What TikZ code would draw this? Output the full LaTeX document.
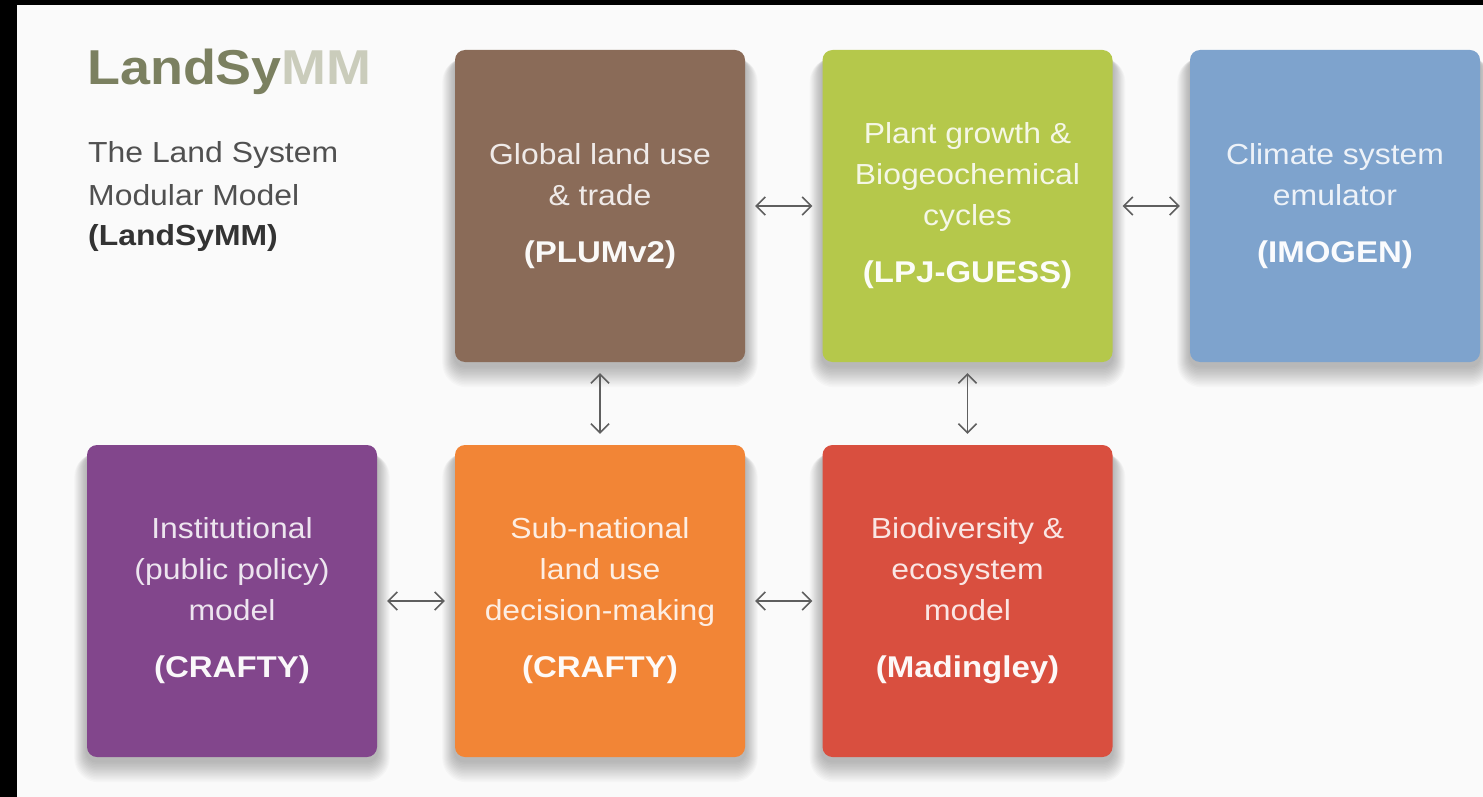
\documentclass[tikz,border=0pt]{standalone}
\usepackage{fontspec}
\setmainfont[FakeStretch=1.1]{Liberation Sans}
\usetikzlibrary{arrows.meta,backgrounds}

\definecolor{panel}{HTML}{FAFAFA}
\definecolor{titleolive}{HTML}{7B8060}
\definecolor{titlelight}{HTML}{CACCBB}
\definecolor{subgray}{HTML}{505050}
\definecolor{subdark}{HTML}{333333}
\definecolor{linkgray}{HTML}{5F5F5F}
\definecolor{cbrown}{HTML}{8A6B58}
\definecolor{cgreen}{HTML}{B5C84B}
\definecolor{cblue}{HTML}{7EA3CD}
\definecolor{cpurple}{HTML}{82468C}
\definecolor{corange}{HTML}{F28536}
\definecolor{cred}{HTML}{D94F3F}

\tikzset{
  module/.style={rectangle, rounded corners=10pt, minimum width=290pt,
    minimum height=312pt, inner sep=0pt, fill=#1, text=white!86!#1,
    align=center, font=\fontsize{29}{41}\selectfont},
  link/.style={draw=linkgray, line width=1.6pt,
    {Straight Barb[length=9pt,width=18pt]}-{Straight Barb[length=9pt,width=18pt]}},
  subline/.style={anchor=base west, inner sep=0pt, text=subgray,
    font=\fontsize{29}{41}\selectfont}
}
\newcommand{\modtag}[2]{{\bfseries\fontsize{30}{41}\selectfont\color{white!96!#1}#2}}

\begin{document}
\begin{tikzpicture}[x=1pt,y=-1pt]
\useasboundingbox (0,0) rectangle (1483,797);

% page background: dark frame with a light panel
\begin{pgfonlayer}{background}
  \fill[black] (0,0) rectangle (1483,797);
  \fill[panel] (17,5) rectangle (1483,797);
\end{pgfonlayer}

% heading
\node[anchor=base west, inner sep=0pt, font=\bfseries\fontsize{49}{49}\selectfont]
  (title) at (87,85) {\textcolor{titleolive}{LandSy}\textcolor{titlelight}{MM}};
\node[subline] (sub1) at (88,163) {The Land System};
\node[subline] (sub2) at (88,205) {Modular Model};
\node[subline, text=subdark, font=\bfseries\fontsize{29}{41}\selectfont]
  (sub3) at (88,245) {(LandSyMM)};

% model boxes, top row
\node[module=cbrown] (plum) at (600,206)
  {Global land use\\ \& trade\\[16pt] \modtag{cbrown}{(PLUMv2)}};
\node[module=cgreen] (lpj) at (967.5,206)
  {Plant growth \&\\ Biogeochemical\\ cycles\\[16pt] \modtag{cgreen}{(LPJ-GUESS)}};
\node[module=cblue] (imogen) at (1335,206)
  {Climate system\\ emulator\\[16pt] \modtag{cblue}{(IMOGEN)}};

% model boxes, bottom row
\node[module=cpurple] (inst) at (232,601)
  {Institutional\\ (public policy)\\ model\\[16pt] \modtag{cpurple}{(CRAFTY)}};
\node[module=corange] (crafty) at (600,601)
  {Sub-national\\ land use\\ decision-making\\[16pt] \modtag{corange}{(CRAFTY)}};
\node[module=cred] (mad) at (967.5,601)
  {Biodiversity \&\\ ecosystem\\ model\\[16pt] \modtag{cred}{(Madingley)}};

% soft drop shadows, mostly below the boxes
\begin{pgfonlayer}{background}
  \foreach \n in {plum,lpj,imogen,inst,crafty,mad}{
    \foreach \k in {1,...,14}{
      \pgfmathsetmacro{\side}{0.9*\k}
      \pgfmathsetmacro{\drop}{4+1.5*\k}
      \pgfmathsetmacro{\rad}{10+1.0*\k}
      \fill[black, opacity=0.018, rounded corners=\rad pt]
        ([shift={(-\side pt,-\drop pt)}]\n.south west)
        rectangle ([shift={(\side pt,-8pt)}]\n.north east);
    }
  }
\end{pgfonlayer}

% two-way couplings
\draw[link, shorten <=10pt, shorten >=10pt] (plum) -- (lpj);
\draw[link, shorten <=10pt, shorten >=10pt] (lpj) -- (imogen);
\draw[link, shorten <=10pt, shorten >=10pt] (inst) -- (crafty);
\draw[link, shorten <=10pt, shorten >=10pt] (crafty) -- (mad);
\draw[link, shorten <=11pt, shorten >=11pt] (plum) -- (crafty);
\draw[link, shorten <=11pt, shorten >=11pt] (lpj) -- (mad);
\end{tikzpicture}
\end{document}
